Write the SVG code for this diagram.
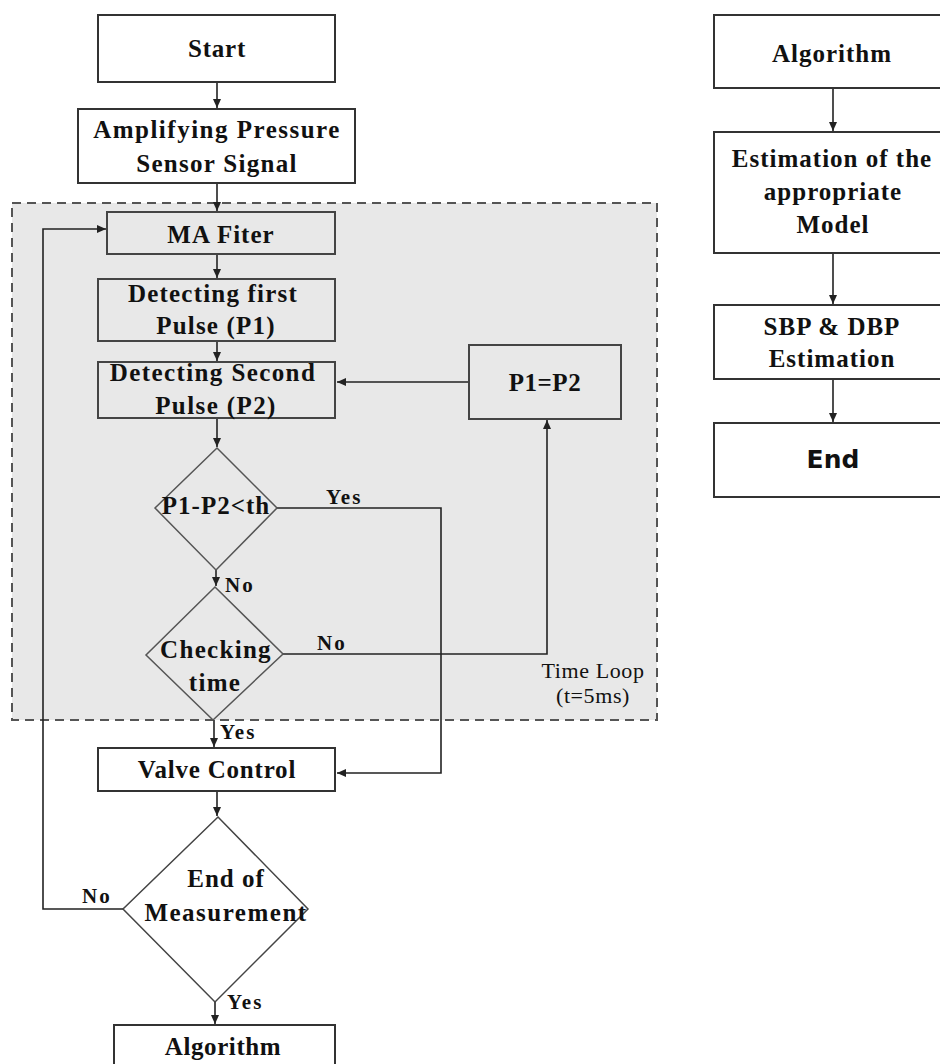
<svg xmlns="http://www.w3.org/2000/svg" width="940" height="1064" viewBox="0 0 940 1064">
<style>
.box{fill:#fff;stroke:#333;stroke-width:2}
.gbox{fill:#e8e8e8;stroke:#444;stroke-width:2}
.dia{fill:none;stroke:#555;stroke-width:1.5}
.wdia{fill:#fff;stroke:#444;stroke-width:1.5}
.t{font-family:"Liberation Serif",serif;font-weight:bold;font-size:25px;fill:#111;text-anchor:middle}
.tr{font-family:"Liberation Serif",serif;font-size:22px;fill:#111;text-anchor:middle}
.lb{font-family:"Liberation Serif",serif;font-weight:bold;font-size:21px;fill:#111;letter-spacing:2px}
.ln{fill:none;stroke:#222;stroke-width:1.6}
</style>
<defs>
<marker id="ah" markerWidth="10" markerHeight="10" refX="9" refY="5" orient="auto" markerUnits="userSpaceOnUse">
<path d="M0,1 L9,5 L0,9 Z" fill="#222"/>
</marker>
</defs>
<rect width="940" height="1064" fill="#fff"/>
<g id="timeloop">
<rect x="12" y="203" width="645" height="517" fill="#e8e8e8" stroke="#555" stroke-width="2" stroke-dasharray="9,6"/>
<text class="tr" x="593" y="678" letter-spacing="0.6">Time Loop</text>
<text class="tr" x="593" y="703" letter-spacing="0.6">(t=5ms)</text>
</g>
<g id="connectors">
<line class="ln" x1="217" y1="82" x2="217" y2="108" marker-end="url(#ah)"/>
<line class="ln" x1="217" y1="183" x2="217" y2="211" marker-end="url(#ah)"/>
<line class="ln" x1="217" y1="254" x2="217" y2="278" marker-end="url(#ah)"/>
<line class="ln" x1="217" y1="341" x2="217" y2="361" marker-end="url(#ah)"/>
<line class="ln" x1="217" y1="418" x2="217" y2="447" marker-end="url(#ah)"/>
<line class="ln" x1="216" y1="570" x2="216" y2="586" marker-end="url(#ah)"/>
<polyline class="ln" points="469,382 337,382" marker-end="url(#ah)"/>
<polyline class="ln" points="277,508 441,508 441,773 337,773" marker-end="url(#ah)"/>
<polyline class="ln" points="283,654 547,654 547,420" marker-end="url(#ah)"/>
<line class="ln" x1="214" y1="720" x2="214" y2="747" marker-end="url(#ah)"/>
<line class="ln" x1="217" y1="791" x2="217" y2="816" marker-end="url(#ah)"/>
<polyline class="ln" points="123,909 43,909 43,229 106,229" marker-end="url(#ah)"/>
<line class="ln" x1="215" y1="1002" x2="215" y2="1024" marker-end="url(#ah)"/>
<line class="ln" x1="833" y1="88" x2="833" y2="131" marker-end="url(#ah)"/>
<line class="ln" x1="833" y1="253" x2="833" y2="304" marker-end="url(#ah)"/>
<line class="ln" x1="833" y1="379" x2="833" y2="422" marker-end="url(#ah)"/>
<text class="lb" x="326" y="504">Yes</text>
<text class="lb" x="225" y="592">No</text>
<text class="lb" x="317" y="650">No</text>
<text class="lb" x="220" y="739">Yes</text>
<text class="lb" x="82" y="903">No</text>
<text class="lb" x="227" y="1009">Yes</text>
</g>
<g id="start">
<rect class="box" x="98" y="15" width="237" height="67"/>
<text class="t" x="217" y="57" font-size="27" letter-spacing="0.8">Start</text>
</g>
<g id="amplify">
<rect class="box" x="78" y="109" width="277" height="74"/>
<text class="t" x="217" y="138" letter-spacing="1.5">Amplifying Pressure</text>
<text class="t" x="217" y="172" letter-spacing="1.3">Sensor Signal</text>
</g>
<g id="mafilter">
<rect class="gbox" x="107" y="212" width="228" height="42"/>
<text class="t" x="221" y="243" font-size="26" letter-spacing="1">MA Fiter</text>
</g>
<g id="detect1">
<rect class="gbox" x="98" y="279" width="237" height="62"/>
<text class="t" x="213" y="302" letter-spacing="1.2">Detecting first</text>
<text class="t" x="216" y="334" letter-spacing="1.2">Pulse (P1)</text>
</g>
<g id="detect2">
<rect class="gbox" x="98" y="362" width="237" height="56"/>
<text class="t" x="213" y="381" letter-spacing="1.4">Detecting Second</text>
<text class="t" x="216" y="414" letter-spacing="1.4">Pulse (P2)</text>
</g>
<g id="p1p2">
<rect class="gbox" x="469" y="345" width="152" height="74"/>
<text class="t" x="545" y="391" font-size="22" letter-spacing="0.5">P1=P2</text>
</g>
<g id="threshold">
<polygon class="dia" points="217,448 277,508 216,570 155,508"/>
<text class="t" x="216" y="514" font-size="21" letter-spacing="1">P1-P2&lt;th</text>
</g>
<g id="checktime">
<polygon class="dia" points="215,587 283,654 213,720 146,655"/>
<text class="t" x="216" y="658" font-size="26" letter-spacing="1.3">Checking</text>
<text class="t" x="215" y="691" font-size="26" letter-spacing="1.3">time</text>
</g>
<g id="valve">
<rect class="box" x="98" y="748" width="237" height="43"/>
<text class="t" x="217" y="778" font-size="26" letter-spacing="0.8">Valve Control</text>
</g>
<g id="endmeas">
<polygon class="wdia" points="218,817 308,909 215,1002 123,909"/>
<text class="t" x="226" y="887" letter-spacing="1">End of</text>
<text class="t" x="226" y="921" letter-spacing="1.5">Measurement</text>
</g>
<g id="algorithm1">
<rect class="box" x="114" y="1025" width="221" height="45"/>
<text class="t" x="223" y="1055" font-size="26" letter-spacing="0.6">Algorithm</text>
</g>
<g id="algorithm2">
<rect class="box" x="714" y="15" width="240" height="73"/>
<text class="t" x="832" y="62" font-size="26" letter-spacing="1">Algorithm</text>
</g>
<g id="estimation">
<rect class="box" x="714" y="132" width="240" height="121"/>
<text class="t" x="832" y="167" font-size="26" letter-spacing="1">Estimation of the</text>
<text class="t" x="833" y="200" font-size="26" letter-spacing="1">appropriate</text>
<text class="t" x="833" y="233" font-size="26" letter-spacing="1">Model</text>
</g>
<g id="sbpdbp">
<rect class="box" x="714" y="305" width="240" height="74"/>
<text class="t" x="832" y="335" font-size="26" letter-spacing="1">SBP &amp; DBP</text>
<text class="t" x="832" y="367" font-size="26" letter-spacing="1">Estimation</text>
</g>
<g id="end">
<rect class="box" x="714" y="423" width="240" height="74"/>
<text class="t" x="833" y="468" style="font-family:'DejaVu Sans',sans-serif" font-size="20.5">End</text>
</g>
</svg>
